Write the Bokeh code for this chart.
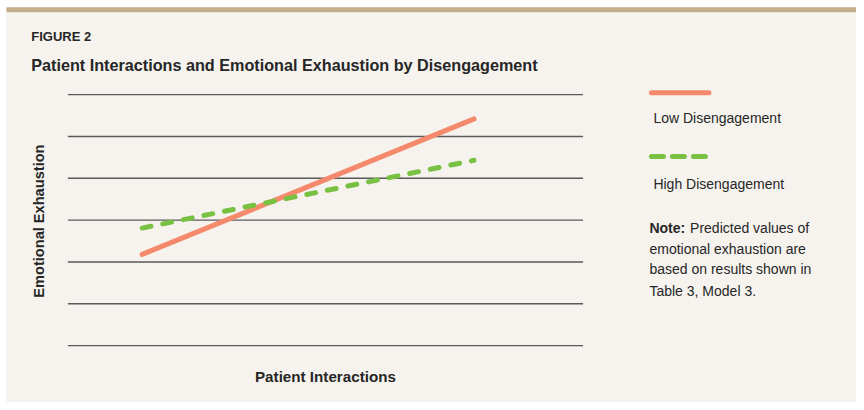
from bokeh.plotting import figure
from bokeh.models import Label, Arrow, Range1d, BoxAnnotation
from bokeh.embed import file_html
from bokeh.resources import INLINE

# ---- data ----
series_names = ["Low Disengagement", "High Disengagement"]
x_levels = [-1, 1]                       # low / high patient interactions
low_diseng = [2.18, 5.42]                # predicted emotional exhaustion
high_diseng = [2.81, 4.43]
grid_levels = [0, 1, 2, 3, 4, 5, 6]
title_text = "Patient Interactions and Emotional Exhaustion by Disengagement"
fig_label = "FIGURE 2"
x_label = "Patient Interactions"
y_label = "Emotional Exhaustion"
note_bold = "Note:"
note_lines = ["Predicted values of", "emotional exhaustion are",
              "based on results shown in", "Table 3, Model 3."]

# ---- style ----
W, H = 856, 402
RW, RH = 864.0, 410.0                    # reference layout grid
BG = "#f6f3ee"
TAN = "#c3ad8b"
ORANGE = "#f5896b"
GREEN = "#79c143"
GRID = "#5a5a5a"
TXT = "#262626"
FONT = "Liberation Sans"

def sx(x):
    return x * W / RW

def sy(y):                               # top-origin layout y -> bottom-origin screen y
    return H - y * H / RH

# plotting-area layout (layout grid units)
L_xm1, L_xp1 = 143.0, 478.0              # x=-1 and x=+1
L_y0, L_y6 = 352.0, 96.0                 # y=0 and y=6
L_gx0, L_gx1 = 68.0, 588.0               # gridline extent
ux = sx(L_xp1 - L_xm1) / 2.0
uy = (L_y0 - L_y6) * H / RH / 6.0
x_start = -1 - sx(L_xm1) / ux
x_end = x_start + W / ux
y_start = 0 - (H - L_y0 * H / RH) / uy
y_end = y_start + H / uy
grid_x0 = -1 + sx(L_gx0 - L_xm1) / ux
grid_x1 = -1 + sx(L_gx1 - L_xm1) / ux

p = figure(width=W, height=H, output_backend="svg", toolbar_location=None,
           x_range=Range1d(x_start, x_end), y_range=Range1d(y_start, y_end),
           min_border=0, x_axis_type=None, y_axis_type=None)
p.background_fill_color = "white"
p.border_fill_color = "white"
p.outline_line_color = None
p.grid.visible = False

# panel background and top tan bar
p.add_layout(BoxAnnotation(left=sx(6), right=W, bottom=0, top=sy(12),
                           left_units="screen", right_units="screen",
                           top_units="screen", bottom_units="screen",
                           fill_color=BG, fill_alpha=1, line_color=None, level="underlay"))
p.add_layout(BoxAnnotation(left=sx(6), right=W, bottom=sy(12), top=sy(7),
                           left_units="screen", right_units="screen",
                           top_units="screen", bottom_units="screen",
                           fill_color=TAN, fill_alpha=1, line_color=None, level="underlay"))

# gridlines
p.segment(x0=[grid_x0] * len(grid_levels), x1=[grid_x1] * len(grid_levels),
          y0=grid_levels, y1=grid_levels, line_color=GRID, line_width=1.4)

# series
p.line(x_levels, low_diseng, line_color=ORANGE, line_width=5, line_cap="round")
p.line(x_levels, high_diseng, line_color=GREEN, line_width=5, line_cap="round",
       line_dash="9 12")

def lab(text, x, y, size, bold=False, **kw):
    p.add_layout(Label(x=sx(x), y=sy(y), x_units="screen", y_units="screen", text=text,
                       text_font=FONT, text_font_size=f"{size}px",
                       text_font_style="bold" if bold else "normal",
                       text_color=TXT, **kw))

# titles
lab(fig_label, 31, 37, 13, bold=True, text_baseline="alphabetic")
lab(title_text, 31, 66, 16.2, bold=True, text_baseline="alphabetic")

# axis labels
lab(x_label, 328, 383, 15.2, bold=True, text_align="center", text_baseline="middle")
lab(y_label, 38.5, 225, 14.6, bold=True, text_align="center", text_baseline="middle",
    angle=1.5708)

# legend
for yy, col, dash in [(94, ORANGE, "solid"), (159, GREEN, "12 9")]:
    p.add_layout(Arrow(end=None, x_start=sx(657), x_end=sx(715), y_start=sy(yy), y_end=sy(yy),
                       start_units="screen", end_units="screen",
                       line_color=col, line_width=5, line_cap="round", line_dash=dash))
lab(series_names[0], 659, 120, 14, text_baseline="middle")
lab(series_names[1], 659, 187, 14, text_baseline="middle")

# note
note_y = [232, 253, 274, 296]
lab(note_bold, 655, note_y[0], 14, bold=True, text_baseline="middle")
lab(note_lines[0], 696, note_y[0], 14, text_baseline="middle")
for t, yy in zip(note_lines[1:], note_y[1:]):
    lab(t, 655, yy, 14, text_baseline="middle")

open("out.html", "w").write(file_html(p, INLINE))
